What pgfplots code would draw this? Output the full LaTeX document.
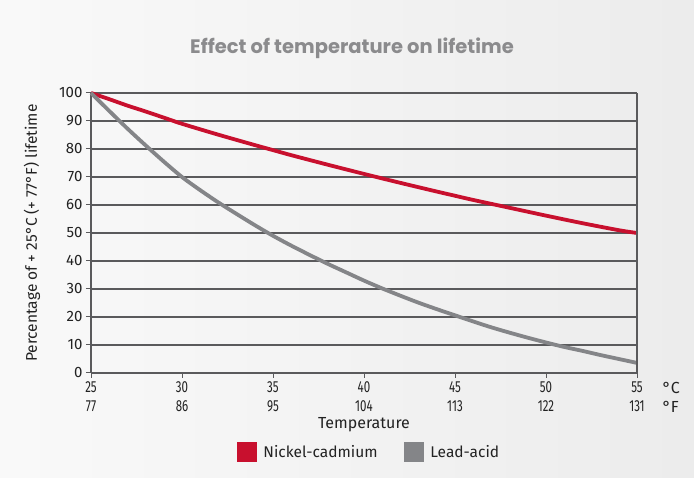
\documentclass[border=0pt]{standalone}
\usepackage{pgfplots}
\pgfplotsset{compat=1.18}
\usepackage{fontspec}
\setmainfont{Fira Sans}
\newfontfamily\condfont[FakeStretch=0.72]{Fira Sans}
\newfontfamily\titlefont{Poppins}

\definecolor{nicd}{HTML}{C8102E}
\definecolor{lead}{HTML}{848588}
\definecolor{gridc}{HTML}{5A5A5C}
\definecolor{titlec}{HTML}{8B8B8D}
\definecolor{txt}{HTML}{222222}

\begin{document}
\begin{tikzpicture}[x=1pt,y=1pt]
\shade[left color=white!55!gray!10, right color=gray!15] (0,0) rectangle (694,478);
\node[font=\titlefont\bfseries\fontsize{19.5}{22}\selectfont, text=titlec] at (352,430) {Effect of temperature on lifetime};
\begin{axis}[
    at={(91pt,105pt)}, anchor=south west,
    scale only axis, width=546pt, height=280pt,
    xmin=25, xmax=55, ymin=0, ymax=100,
    axis x line=bottom, axis y line=left,
    axis line style={gridc, line width=2pt, -},
    xtick={25,30,35,40,45,50,55},
    xticklabels={25\\77,30\\86,35\\95,40\\104,45\\113,50\\122,55\\131},
    x tick label style={align=center, font=\condfont\fontsize{16}{19}\selectfont, text=txt},
    ytick={0,10,...,100},
    y tick label style={font=\fontsize{15}{16}\selectfont, text=txt},
    /pgf/number format/assume math mode=true,
    tick align=outside,
    major tick length=5pt,
    tick style={gridc, line width=1pt},
    ymajorgrids,
    grid style={gridc, line width=1.1pt},
    xlabel={Temperature},
    xlabel style={at={(axis description cs:0.5,-0.186)}, anchor=center, font=\fontsize{16}{18}\selectfont, text=txt},
    ylabel={Percentage of + 25°C (+ 77°F) lifetime},
    ylabel style={at={(axis description cs:-0.108,0.5)}, anchor=center, rotate=0, font=\fontsize{15.5}{18}\selectfont, text=txt},
    legend columns=2,
    legend style={at={(axis description cs:0.509,-0.282)}, anchor=center, draw=none, fill=none,
        font=\fontsize{15.5}{18}\selectfont, text=txt,
        /tikz/every odd column/.append style={column sep=4pt},
        /tikz/every even column/.append style={column sep=24pt}},
    legend image code/.code={\fill[#1] (0pt,-8pt) rectangle (17pt,9pt);},
    clip=false,
]
\addplot[nicd, line width=3.8pt, smooth] coordinates {
    (25,100) (26,97.8) (27,95.5) (28,93.4) (29,91.2) (30,89)
    (32,85.1) (34,81.4) (35,79.6) (36,77.8) (38,74.4) (40,71.1)
    (42,67.9) (44,64.8) (45,63.3) (46,61.8) (48,59) (50,56.2)
    (52,53.5) (54,51) (55,50)
};
\addlegendentry{Nickel-cadmium}
\addplot[lead, line width=3.8pt, smooth] coordinates {
    (25,100) (26,93.6) (27,87.3) (28,81.3) (29,75.5) (30,70)
    (31,65.3) (32,60.9) (33,56.8) (34,52.8) (35,49)
    (36,45.5) (37,42.2) (38,39) (39,36) (40,33)
    (41,30.2) (42,27.6) (43,25.1) (44,22.8) (45,20.6)
    (46,18.4) (47,16.3) (48,14.4) (49,12.6) (50,10.9)
    (51,9.3) (52,7.9) (53,6.4) (54,5) (55,3.6)
};
\addlegendentry{Lead-acid}
\draw[gridc, line width=1.1pt] (axis cs:55,0) -- (axis cs:55,100);
\node[font=\fontsize{16}{18}\selectfont, text=txt, anchor=west] at ([xshift=22pt,yshift=-15pt]axis cs:55,0) {°C};
\node[font=\fontsize{16}{18}\selectfont, text=txt, anchor=west] at ([xshift=22pt,yshift=-34pt]axis cs:55,0) {°F};
\end{axis}
\pgfresetboundingbox
\path (0,0) rectangle (694,478);
\end{tikzpicture}
\end{document}
